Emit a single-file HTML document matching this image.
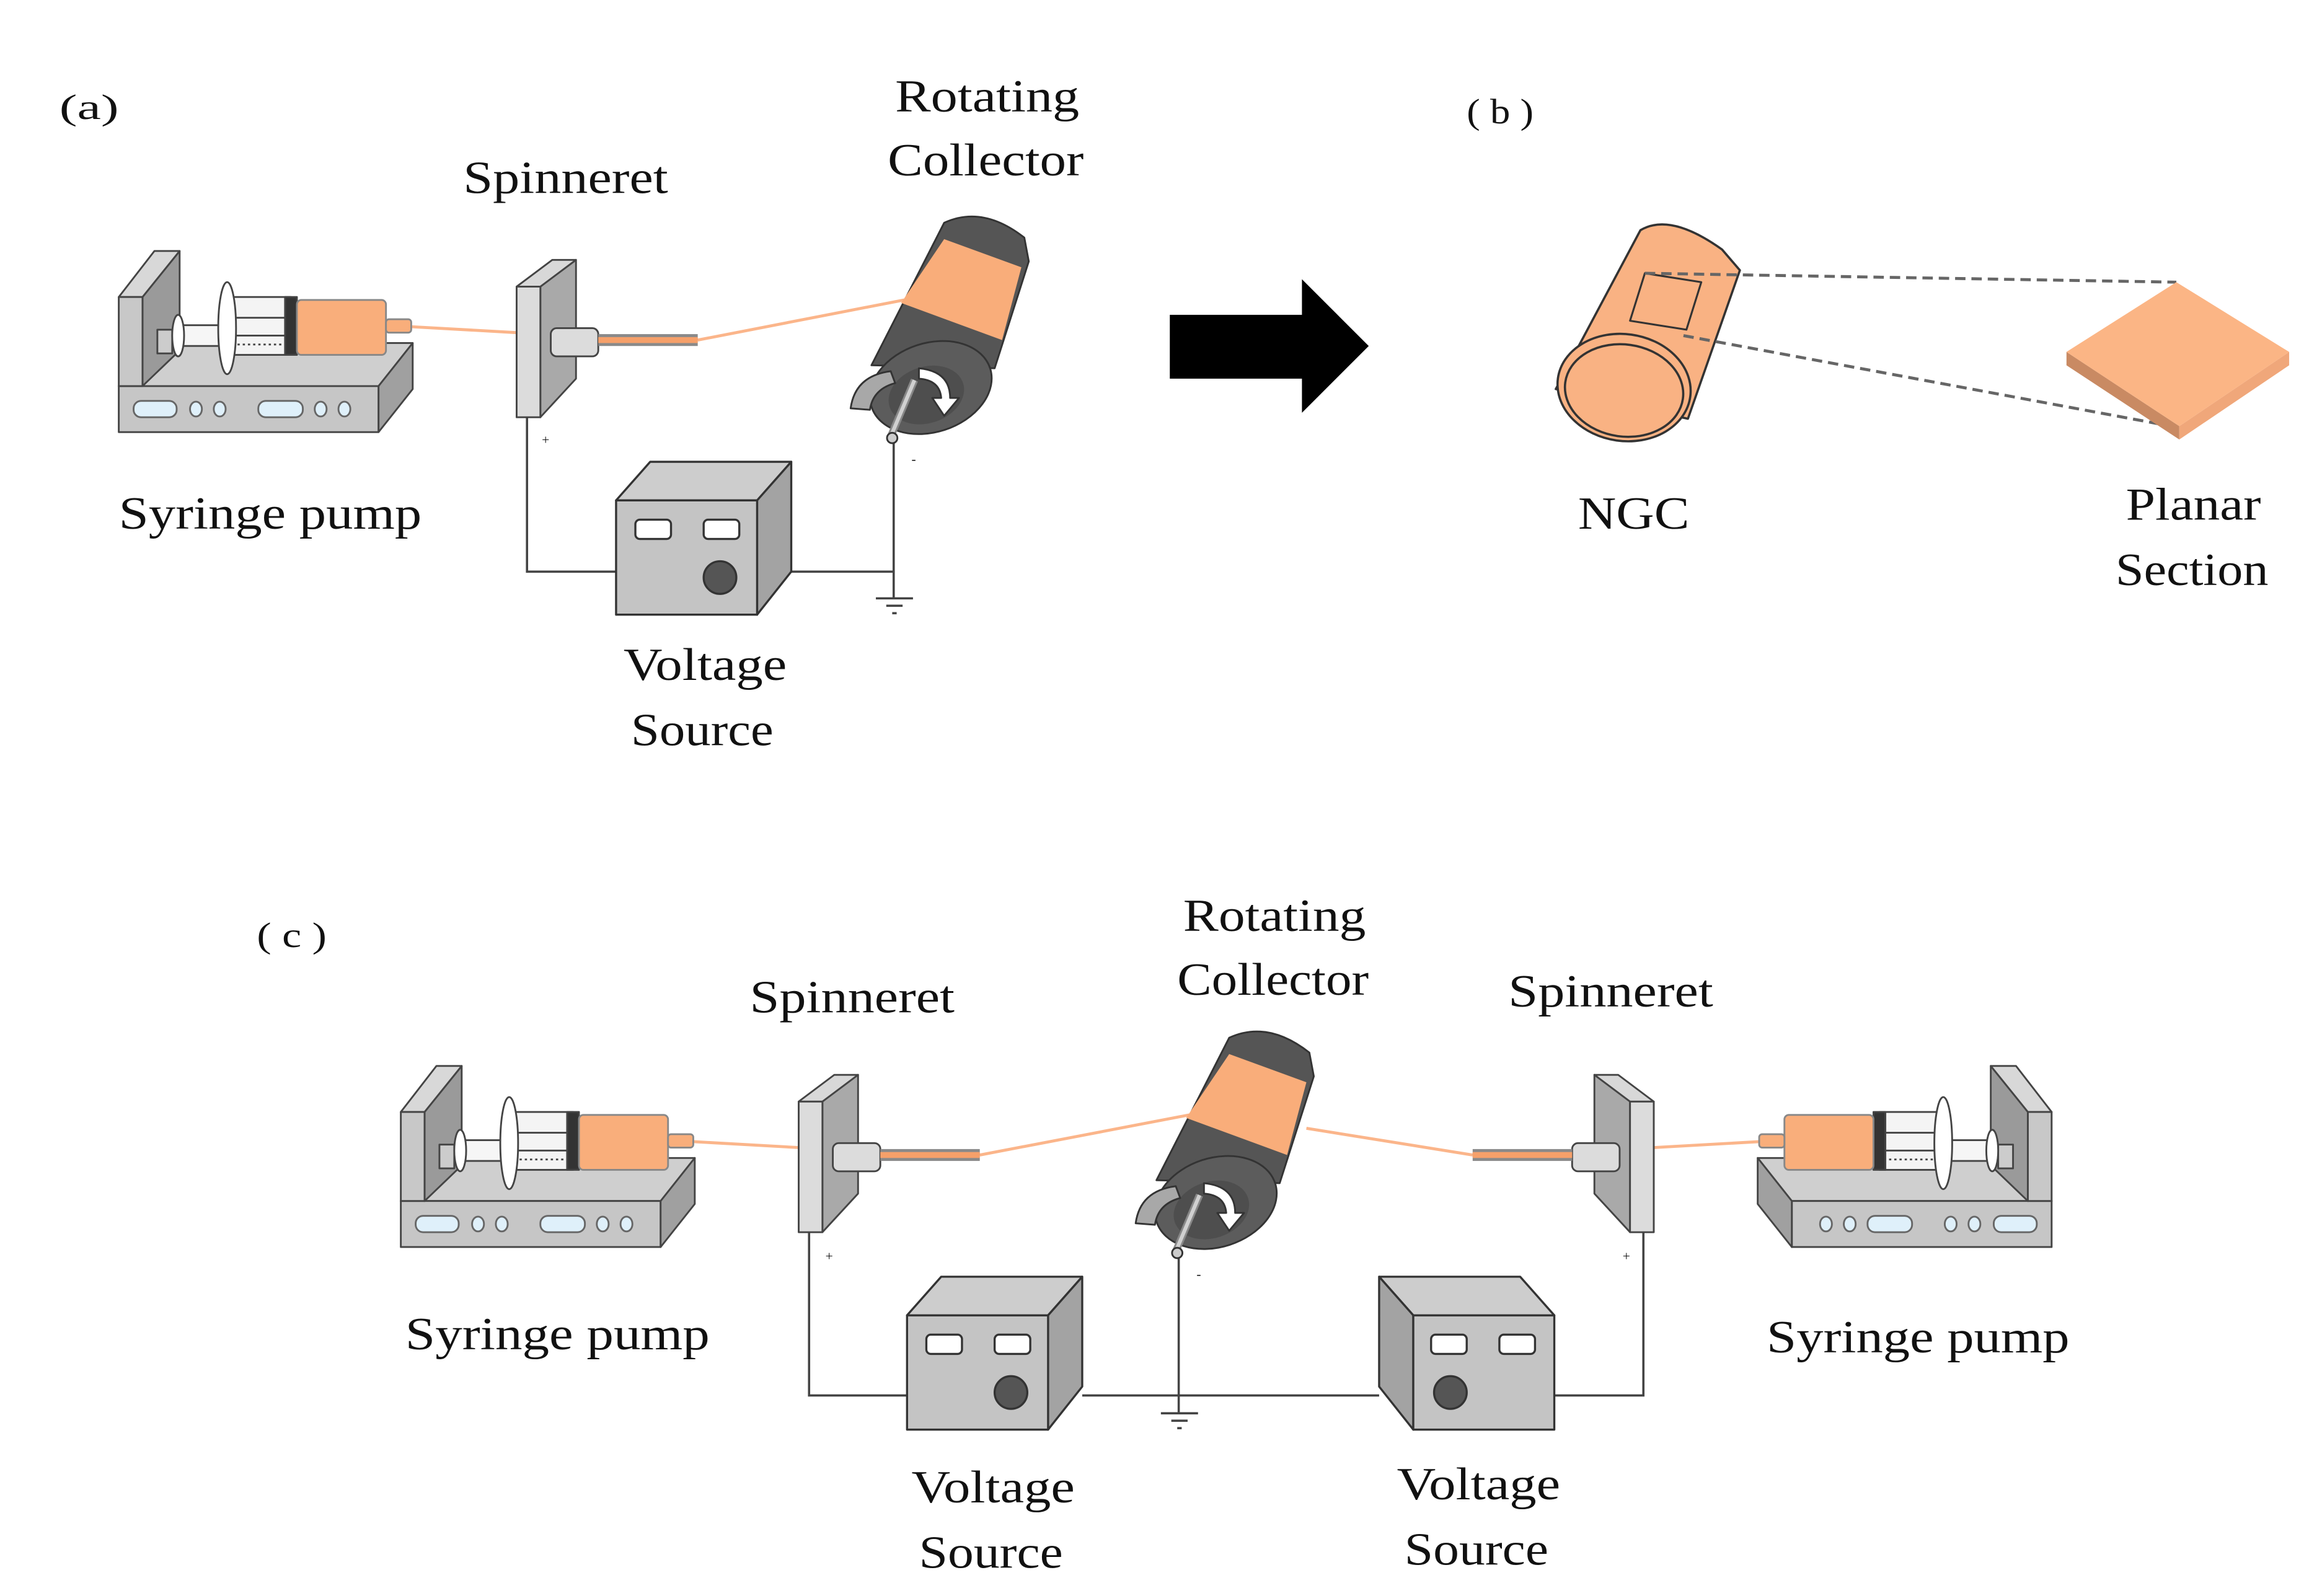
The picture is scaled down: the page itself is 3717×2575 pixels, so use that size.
<!DOCTYPE html>
<html><head><meta charset="utf-8"><style>
html,body{margin:0;padding:0;background:#fff}
svg{display:block}
text{font-family:"Liberation Serif",serif;fill:#111}
</style></head><body>
<svg width="3717" height="2575" viewBox="0 0 1552 1075" xmlns="http://www.w3.org/2000/svg">
<defs>
<g id="pump" stroke="#444" stroke-width="1.2" stroke-linejoin="round">
  <polygon points="80,260 255,260 278,231 110,231" fill="#cfcfcf"/>
  <rect x="80" y="260" width="175" height="31" fill="#c6c6c6"/>
  <polygon points="255,260 278,231 278,262 255,291" fill="#a0a0a0"/>
  <rect x="90" y="270" width="29" height="11" rx="5" fill="#dff0fa" stroke="#666"/>
  <ellipse cx="132" cy="275.5" rx="4" ry="5" fill="#dff0fa" stroke="#666"/>
  <ellipse cx="148" cy="275.5" rx="4" ry="5" fill="#dff0fa" stroke="#666"/>
  <rect x="174" y="270" width="30" height="11" rx="5" fill="#dff0fa" stroke="#666"/>
  <ellipse cx="216" cy="275.5" rx="4" ry="5" fill="#dff0fa" stroke="#666"/>
  <ellipse cx="232" cy="275.5" rx="4" ry="5" fill="#dff0fa" stroke="#666"/>
  <polygon points="96,200 121,169 121,236 96,260" fill="#9a9a9a"/>
  <polygon points="80,200 104,169 121,169 96,200" fill="#d8d8d8"/>
  <rect x="80" y="200" width="16" height="60" fill="#c8c8c8"/>
  <rect x="106" y="222" width="10" height="16" fill="#ccc"/>
  <rect x="118" y="219" width="32" height="14" fill="#f6f6f6"/>
  <ellipse cx="120" cy="226" rx="4" ry="14" fill="#fff"/>
  <rect x="156" y="200" width="40" height="39" fill="#f4f4f4"/>
  <line x1="156" y1="214" x2="196" y2="214"/>
  <line x1="156" y1="226" x2="196" y2="226"/>
  <line x1="160" y1="232" x2="192" y2="232" stroke-dasharray="1.5,2"/>
  <ellipse cx="153" cy="221" rx="6" ry="31" fill="#fff"/>
  <rect x="192" y="200" width="8" height="39" fill="#333"/>
  <rect x="200" y="202" width="60" height="37" rx="3" fill="#f9ae7b" stroke="#888"/>
  <rect x="260" y="215" width="17" height="9" rx="2" fill="#f9ae7b" stroke="#888"/>
</g>
<g id="spin" stroke="#444" stroke-width="1.2" stroke-linejoin="round">
  <polygon points="364,193 388,175 388,255 364,281" fill="#a9a9a9"/>
  <polygon points="348,193 372,175 388,175 364,193" fill="#d8d8d8"/>
  <rect x="348" y="193" width="16" height="88" fill="#dcdcdc"/>
  <rect x="371" y="221" width="32" height="19" rx="4" fill="#dcdcdc"/>
  <rect x="403" y="225" width="67" height="8" fill="#8a8a8a" stroke="none"/>
  <rect x="403" y="227" width="67" height="4" fill="#f6a06a" stroke="none"/>
</g>
<g id="box" stroke="#333" stroke-width="1.4" stroke-linejoin="round">
  <polygon points="415,337 438,311 533,311 510,337" fill="#cdcdcd"/>
  <polygon points="510,337 533,311 533,385 510,414" fill="#a3a3a3"/>
  <rect x="415" y="337" width="95" height="77" fill="#c4c4c4"/>
  <rect x="428" y="350" width="24" height="13" rx="3" fill="#fff"/>
  <rect x="474" y="350" width="24" height="13" rx="3" fill="#fff"/>
  <circle cx="485" cy="389" r="11" fill="#555"/>
</g>
<g id="coll" stroke="#333" stroke-width="1.2" stroke-linejoin="round">
  <path d="M636,150 Q662,138 690,160 L693,176 L670,248 L587,246 Z" fill="#555"/>
  <polygon points="636,161 688,180 675,229 607,204" fill="#f9ad7a" stroke="none"/>
  <ellipse cx="627" cy="261" rx="42" ry="30" transform="rotate(-18 627 261)" fill="#5c5c5c"/>
  <ellipse cx="624" cy="266" rx="26" ry="19" transform="rotate(-18 624 266)" fill="#4e4e4e" stroke="none"/>
  <path d="M573,275 Q576,253 600,250 L603,258 Q588,262 586,276 Z" fill="#a8a8a8"/>
  <path d="M619,248 Q640,250 640,268 L646,268 L636,280 L628,268 L634,268 Q633,256 619,255 Z" fill="#fff"/>
  <line x1="616" y1="256" x2="600" y2="294" stroke="#888" stroke-width="5"/>
  <line x1="616" y1="256" x2="600" y2="294" stroke="#d0d0d0" stroke-width="2.5"/>
  <circle cx="601" cy="295" r="3.5" fill="#ccc"/>
</g>
</defs>

<!-- (a) -->
<g stroke="#444" stroke-width="1.5" fill="none">
  <polyline points="355,281 355,385 415,385"/>
  <polyline points="533,385 602,385"/>
  <line x1="602" y1="297" x2="602" y2="403"/>
  <line x1="590" y1="403" x2="615" y2="403"/>
  <line x1="597" y1="408" x2="608" y2="408"/>
  <line x1="601" y1="413" x2="604" y2="413"/>
</g>
<line x1="277" y1="220" x2="348" y2="224" stroke="#fbb58a" stroke-width="2"/>
<line x1="470" y1="229" x2="609" y2="202" stroke="#fbb58a" stroke-width="2"/>
<use href="#pump"/>
<use href="#spin"/>
<use href="#box"/>
<use href="#coll"/>
<text x="365" y="299" font-size="9">+</text>
<text x="614" y="312" font-size="9">-</text>

<text x="40" y="80" font-size="24" textLength="40" lengthAdjust="spacingAndGlyphs">(a)</text>
<text x="312" y="130" font-size="31" textLength="138" lengthAdjust="spacingAndGlyphs">Spinneret</text>
<text x="603" y="75" font-size="31" textLength="124" lengthAdjust="spacingAndGlyphs">Rotating</text>
<text x="598" y="118" font-size="31" textLength="132" lengthAdjust="spacingAndGlyphs">Collector</text>
<text x="80" y="356" font-size="31" textLength="204" lengthAdjust="spacingAndGlyphs">Syringe pump</text>
<text x="420" y="458" font-size="31" textLength="110" lengthAdjust="spacingAndGlyphs">Voltage</text>
<text x="425" y="502" font-size="31" textLength="96" lengthAdjust="spacingAndGlyphs">Source</text>

<!-- arrow -->
<rect x="788" y="212" width="92" height="43" fill="#000"/>
<polygon points="877,188 922,233 877,278" fill="#000"/>

<!-- (b) -->
<text x="988" y="83" font-size="24" textLength="45" lengthAdjust="spacingAndGlyphs">( b )</text>
<g stroke="#333" stroke-width="1.5" stroke-linejoin="round">
  <path d="M1105,155 Q1125,143 1160,168 L1172,182 L1137,282 L1048,262 Z" fill="#f9b283"/>
  <ellipse cx="1094" cy="261" rx="45" ry="36" transform="rotate(8 1094 261)" fill="#f9b283"/>
  <ellipse cx="1094" cy="263" rx="40" ry="31" transform="rotate(8 1094 263)" fill="#f9b283"/>
  <polygon points="1108,184 1146,190 1136,222 1098,216" fill="none" stroke-width="1.3"/>
</g>
<g stroke="#666" stroke-width="2" stroke-dasharray="7,4" fill="none">
  <line x1="1108" y1="184" x2="1466" y2="190"/>
  <line x1="1134" y1="226" x2="1468" y2="288"/>
</g>
<polygon points="1392,237 1468,287 1468,296 1392,246" fill="#c98a63"/>
<polygon points="1468,287 1542,237 1542,246 1468,296" fill="#f0a77a"/>
<polygon points="1466,190 1542,237 1468,287 1392,237" fill="#fbb585"/>
<text x="1063" y="356" font-size="31" textLength="75" lengthAdjust="spacingAndGlyphs">NGC</text>
<text x="1432" y="350" font-size="31" textLength="91" lengthAdjust="spacingAndGlyphs">Planar</text>
<text x="1425" y="394" font-size="31" textLength="103" lengthAdjust="spacingAndGlyphs">Section</text>

<!-- (c) -->
<text x="173" y="638" font-size="24" textLength="47" lengthAdjust="spacingAndGlyphs">( c )</text>
<g stroke="#444" stroke-width="1.5" fill="none">
  <polyline points="545,830 545,940 611,940"/>
  <line x1="729" y1="940" x2="929" y2="940"/>
  <polyline points="1047,940 1107,940 1107,830"/>
  <line x1="794" y1="846" x2="794" y2="952"/>
  <line x1="782" y1="952" x2="807" y2="952"/>
  <line x1="789" y1="957" x2="800" y2="957"/>
  <line x1="793" y1="962" x2="796" y2="962"/>
</g>
<line x1="467" y1="769" x2="538" y2="773" stroke="#fbb58a" stroke-width="2"/>
<line x1="660" y1="778" x2="801" y2="751" stroke="#fbb58a" stroke-width="2"/>
<line x1="880" y1="760" x2="992" y2="778" stroke="#fbb58a" stroke-width="2"/>
<line x1="1114" y1="773" x2="1185" y2="769" stroke="#fbb58a" stroke-width="2"/>
<use href="#pump" transform="translate(190,549)"/>
<use href="#spin" transform="translate(190,549)"/>
<use href="#box" transform="translate(196,549)"/>
<use href="#box" transform="translate(1462,549) scale(-1,1)"/>
<use href="#spin" transform="translate(1462,549) scale(-1,1)"/>
<use href="#pump" transform="translate(1462,549) scale(-1,1)"/>
<use href="#coll" transform="translate(192,549)"/>
<text x="556" y="849" font-size="9">+</text>
<text x="1093" y="849" font-size="9">+</text>
<text x="806" y="861" font-size="9">-</text>

<text x="505" y="682" font-size="31" textLength="138" lengthAdjust="spacingAndGlyphs">Spinneret</text>
<text x="797" y="627" font-size="31" textLength="123" lengthAdjust="spacingAndGlyphs">Rotating</text>
<text x="793" y="670" font-size="31" textLength="129" lengthAdjust="spacingAndGlyphs">Collector</text>
<text x="1016" y="678" font-size="31" textLength="138" lengthAdjust="spacingAndGlyphs">Spinneret</text>
<text x="273" y="909" font-size="31" textLength="205" lengthAdjust="spacingAndGlyphs">Syringe pump</text>
<text x="1190" y="911" font-size="31" textLength="204" lengthAdjust="spacingAndGlyphs">Syringe pump</text>
<text x="614" y="1012" font-size="31" textLength="110" lengthAdjust="spacingAndGlyphs">Voltage</text>
<text x="619" y="1056" font-size="31" textLength="97" lengthAdjust="spacingAndGlyphs">Source</text>
<text x="941" y="1010" font-size="31" textLength="110" lengthAdjust="spacingAndGlyphs">Voltage</text>
<text x="946" y="1054" font-size="31" textLength="97" lengthAdjust="spacingAndGlyphs">Source</text>
</svg>
</body></html>
